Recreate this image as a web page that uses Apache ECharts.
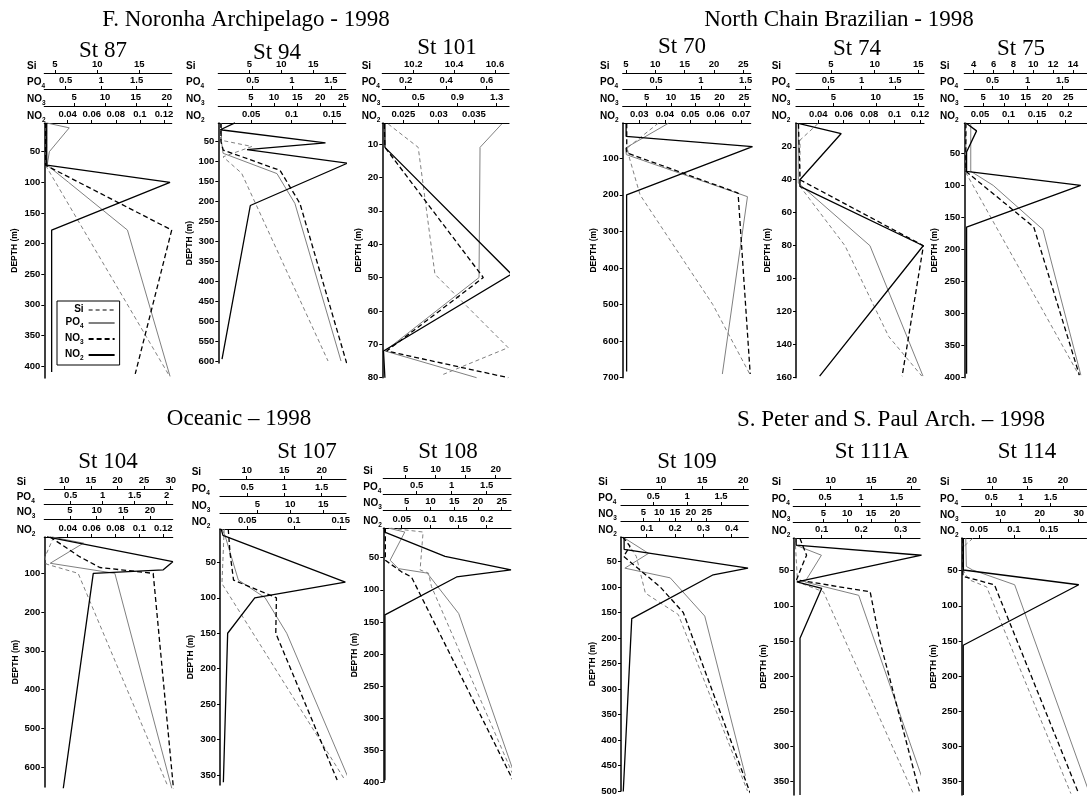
<!DOCTYPE html>
<html><head><meta charset="utf-8">
<script src="https://cdn.jsdelivr.net/npm/echarts@6/dist/echarts.min.js"></script>
<style>html,body{margin:0;padding:0;background:#fff}#c{width:1087px;height:796px}</style>
</head><body><div id="c"></div>
<script>
// ---------------- DATA ----------------
const SECTION_TITLES = ['F. Noronha Archipelago - 1998','North Chain Brazilian - 1998','Oceanic \u2013 1998','S. Peter and S. Paul Arch. \u2013 1998'];
const STATIONS = ['St 87','St 94','St 101','St 70','St 74','St 75','St 104','St 107','St 108','St 109','St 111A','St 114'];
const NUTRIENTS = ['Si','PO4','NO3','NO2'];

// tick labels of the four top axes, per station
const TICKS_87  = {Si:[5,10,15], PO4:[0.5,1,1.5], NO3:[5,10,15,20], NO2:[0.04,0.06,0.08,0.1,0.12]};
const TICKS_94  = {Si:[5,10,15], PO4:[0.5,1,1.5], NO3:[5,10,15,20,25], NO2:[0.05,0.1,0.15]};
const TICKS_101 = {Si:[10.2,10.4,10.6], PO4:[0.2,0.4,0.6], NO3:[0.5,0.9,1.3], NO2:[0.025,0.03,0.035]};
const TICKS_70  = {Si:[5,10,15,20,25], PO4:[0.5,1,1.5], NO3:[5,10,15,20,25], NO2:[0.03,0.04,0.05,0.06,0.07]};
const TICKS_74  = {Si:[5,10,15], PO4:[0.5,1,1.5], NO3:[5,10,15], NO2:[0.04,0.06,0.08,0.1,0.12]};
const TICKS_75  = {Si:[4,6,8,10,12,14], PO4:[0.5,1,1.5], NO3:[5,10,15,20,25], NO2:[0.05,0.1,0.15,0.2]};
const TICKS_104 = {Si:[10,15,20,25,30], PO4:[0.5,1,1.5,2], NO3:[5,10,15,20], NO2:[0.04,0.06,0.08,0.1,0.12]};
const TICKS_107 = {Si:[10,15,20], PO4:[0.5,1,1.5], NO3:[5,10,15], NO2:[0.05,0.1,0.15]};
const TICKS_108 = {Si:[5,10,15,20], PO4:[0.5,1,1.5], NO3:[5,10,15,20,25], NO2:[0.05,0.1,0.15,0.2]};
const TICKS_109 = {Si:[10,15,20], PO4:[0.5,1,1.5], NO3:[5,10,15,20,25], NO2:[0.1,0.2,0.3,0.4]};
const TICKS_111A= {Si:[10,15,20], PO4:[0.5,1,1.5], NO3:[5,10,15,20], NO2:[0.1,0.2,0.3]};
const TICKS_114 = {Si:[10,15,20], PO4:[0.5,1,1.5], NO3:[10,20,30], NO2:[0.05,0.1,0.15]};

// depth tick labels
const DEPTH_87  = [50,100,150,200,250,300,350,400];
const DEPTH_94  = [50,100,150,200,250,300,350,400,450,500,550,600];
const DEPTH_101 = [10,20,30,40,50,60,70,80];
const DEPTH_70  = [100,200,300,400,500,600,700];
const DEPTH_74  = [20,40,60,80,100,120,140,160];
const DEPTH_75  = [50,100,150,200,250,300,350,400];
const DEPTH_104 = [100,200,300,400,500,600];
const DEPTH_107 = [50,100,150,200,250,300,350];
const DEPTH_108 = [50,100,150,200,250,300,350,400];
const DEPTH_109 = [50,100,150,200,250,300,350,400,450,500];
const DEPTH_111A= [50,100,150,200,250,300,350];
const DEPTH_114 = [50,100,150,200,250,300,350];

// profiles: [concentration, depth (m)]
const St87_Si  = [[4.0,3],[4.0,75],[18.6,417]];
const St87_PO4 = [[0.23,3],[0.55,11],[0.27,50],[0.24,72],[0.54,100],[1.37,178],[1.97,417]];
const St87_NO3 = [[0.4,3],[0.4,72],[20.8,178],[14.9,413]];
const St87_NO2 = [[0.0226,3],[0.0226,72],[0.125,100],[0.0267,178],[0.0267,410]];

const St94_Si  = [[0.5,3],[0.5,46],[5.4,62],[0.9,88],[3.8,129],[17.3,600]];
const St94_PO4 = [[0.1,3],[0.1,50],[0.12,79],[0.81,130],[1.04,205],[1.63,600]];
const St94_NO3 = [[-1.5,3],[-1.5,50],[-1.0,71],[11.3,122],[15.6,205],[25.7,605]];
const St94_NO2 = [[0.03,3],[0.012,20],[0.142,53],[0.045,70],[0.169,104],[0.049,210],[0.014,595]];

const St101_Si  = [[10.077,4],[10.224,11],[10.306,49],[10.665,71],[10.347,79]];
const St101_PO4 = [[0.674,4],[0.567,11],[0.562,50],[0.098,72],[0.55,80]];
const St101_NO3 = [[0.153,4],[0.16,11],[1.164,50],[0.178,72],[1.418,80]];
const St101_NO2 = [[0.0224,4],[0.0224,11],[0.0403,49],[0.0222,72],[0.0224,80]];

const St70_Si  = [[10.5,4],[5.2,72],[5.6,100],[7.4,200],[19.8,500],[26.1,690]];
const St70_PO4 = [[0.64,4],[0.16,72],[0.17,90],[1.52,205],[1.24,690]];
const St70_NO3 = [[0.9,4],[0.9,85],[23.8,195],[26.3,690]];
const St70_NO2 = [[0.0248,4],[0.0248,40],[0.0745,68],[0.025,200],[0.025,683]];

const St74_Si  = [[3.5,6],[1.45,16],[1.45,44],[6.6,80],[11.6,135],[15.4,159]];
const St74_PO4 = [[0.05,6],[0.05,42],[1.125,80],[1.92,159]];
const St74_NO3 = [[0.9,6],[1.08,40],[15.6,80],[13.1,159]];
const St74_NO2 = [[0.025,6],[0.058,12],[0.0255,40],[0.0255,44],[0.1226,80],[0.041,159]];

const St75_Si  = [[3.2,3],[3.2,80],[14.6,396]];
const St75_PO4 = [[0.19,3],[0.19,78],[0.51,100],[1.22,169],[1.76,396]];
const St75_NO3 = [[0.97,3],[0.97,78],[16.9,165],[27.6,396]];
const St75_NO2 = [[0.026,3],[0.044,15],[0.0265,48],[0.0265,78],[0.2265,100],[0.0265,165],[0.0265,394]];

const St104_Si  = [[8.0,6],[6.4,57],[6.6,76],[12.6,100],[29.5,651]];
const St104_PO4 = [[0.2,6],[0.7,22],[0.18,74],[1.19,100],[2.08,655]];
const St104_NO3 = [[1.25,6],[6.8,57],[10.6,85],[20.6,100],[24.4,655]];
const St104_NO2 = [[0.0226,6],[0.128,70],[0.12,91],[0.0614,100],[0.0363,655]];

const St107_Si  = [[7.0,3],[6.7,80],[23.1,357]];
const St107_PO4 = [[0.16,3],[0.2,12],[0.38,75],[0.74,100],[1.03,150],[1.89,362]];
const St107_NO3 = [[0.6,3],[0.87,37],[1.4,75],[7.9,100],[7.8,150],[17.1,357]];
const St107_NO2 = [[0.022,3],[0.024,12],[0.155,78],[0.058,100],[0.029,150],[0.0244,360]];

const St108_Si  = [[2.5,4],[7.9,10],[7.4,69],[8.8,74],[9.3,95],[23.2,395]];
const St108_PO4 = [[0.1,4],[0.33,10],[0.12,54],[0.24,67],[0.65,74],[1.1,137],[1.92,395]];
const St108_NO3 = [[0.5,4],[0.5,54],[3.9,72],[6.0,80],[27.4,397]];
const St108_NO2 = [[0.02,4],[0.02,10],[0.1265,48],[0.243,69],[0.147,80],[0.0204,139],[0.0204,397]];

const St109_Si  = [[5.5,2],[7.0,40],[8.1,112],[12.1,154],[20.5,500]];
const St109_PO4 = [[0.05,2],[0.43,34],[0.08,63],[0.75,82],[1.26,157],[1.86,470]];
const St109_NO3 = [[-1.5,2],[0.8,20],[-1.2,40],[10.2,99],[17.6,150],[38.7,504]];
const St109_NO2 = [[0.02,2],[0.02,26],[0.458,63],[0.335,76],[0.047,162],[0.017,501]];

const St111A_Si  = [[5.6,4],[5.9,66],[9.1,80],[20.2,367]];
const St111A_PO4 = [[0.1,4],[0.1,14],[0.45,28],[0.22,66],[0.97,85],[1.93,367]];
const St111A_NO3 = [[0.1,4],[1.5,28],[0.5,44],[-0.6,63],[14.8,80],[16.8,149],[25.2,367]];
const St111A_NO2 = [[0.035,4],[0.035,13.5],[0.353,28],[0.037,66],[0.1,75],[0.045,146],[0.045,369]];

const St114_Si  = [[7.3,4],[6.0,16],[6.0,50],[6.8,63],[9.25,73],[21.1,367]];
const St114_PO4 = [[0.07,4],[0.08,44],[0.185,49],[0.894,70],[2.156,367]];
const St114_NO3 = [[0.33,4],[0.33,58],[8.4,70],[30,367]];
const St114_NO2 = [[0.028,4],[0.028,49],[0.1923,70],[0.0278,156],[0.0278,369]];

// ---------------- LAYOUT (pixel geometry & axis extents) ----------------
const SECTION_POS = [[246,20],[839,20],[239,419],[891,420]];
const PANELS = [
 {data:[St87_Si,St87_PO4,St87_NO3,St87_NO2], ticks:TICKS_87, depth:DEPTH_87, left:44.3, top:123, width:127.4, height:255, ymin:3.1, ymax:419.6,
  rng:{Si:[3.73,18.84],PO4:[0.199,1.993],NO3:[0.19,20.8],NO2:[0.0206,0.1264]}, off:[50,34,17,0], nameGap:17.3, depthGap:30, title:[103,51]},
 {data:[St94_Si,St94_PO4,St94_NO3,St94_NO2], ticks:TICKS_94, depth:DEPTH_94, left:218.3, top:123, width:127.4, height:240, ymin:3.1, ymax:605,
  rng:{Si:[0.16,20.06],PO4:[0.059,1.69],NO3:[-2.07,25.5],NO2:[0.0094,0.167]}, off:[50,34,17,0], nameGap:32.3, depthGap:28, title:[277,53]},
 {data:[St101_Si,St101_PO4,St101_NO3,St101_NO2], ticks:TICKS_101, depth:DEPTH_101, left:382.3, top:123, width:126.7, height:254.7, ymin:3.7, ymax:80,
  rng:{Si:[10.048,10.669],PO4:[0.0845,0.71],NO3:[0.133,1.426],NO2:[0.02203,0.03995]}, off:[50,34,17,0], nameGap:20.6, depthGap:24.6, title:[447,48]},
 {data:[St70_Si,St70_PO4,St70_NO3,St70_NO2], ticks:TICKS_70, depth:DEPTH_70, left:622.7, top:123, width:128, height:254.7, ymin:3.5, ymax:700,
  rng:{Si:[4.44,26.26],PO4:[0.129,1.556],NO3:[0.07,26.4],NO2:[0.02346,0.0738]}, off:[50,34,17,0], nameGap:22.7, depthGap:29.4, title:[682,47]},
 {data:[St74_Si,St74_PO4,St74_NO3,St74_NO2], ticks:TICKS_74, depth:DEPTH_74, left:796, top:123, width:128, height:254.7, ymin:5.6, ymax:160,
  rng:{Si:[0.99,15.65],PO4:[0.016,1.935],NO3:[0.61,15.67],NO2:[0.0224,0.1232]}, off:[50,34,17,0], nameGap:24.3, depthGap:29.3, title:[857,49]},
 {data:[St75_Si,St75_PO4,St75_NO3,St75_NO2], ticks:TICKS_75, depth:DEPTH_75, left:964.3, top:123, width:130.7, height:254.7, ymin:2.7, ymax:400,
  rng:{Si:[3.05,15.41],PO4:[0.098,1.848],NO3:[0.6,29.39],NO2:[0.0225,0.2375]}, off:[50,34,17,0], nameGap:24.3, depthGap:30, title:[1021,49]},
 {data:[St104_Si,St104_PO4,St104_NO3,St104_NO2], ticks:TICKS_104, depth:DEPTH_104, left:44.3, top:537, width:128.4, height:250, ymin:6.2, ymax:651.7,
  rng:{Si:[6.24,30.38],PO4:[0.0875,2.094],NO3:[0.18,24.26],NO2:[0.0204,0.1279]}, off:[48,33,18,0], nameGap:27.6, depthGap:29.3, title:[108,462]},
 {data:[St107_Si,St107_PO4,St107_NO3,St107_NO2], ticks:TICKS_107, depth:DEPTH_107, left:220, top:529, width:126, height:256, ymin:3, ymax:364,
  rng:{Si:[6.44,23.24],PO4:[0.133,1.827],NO3:[-0.65,18.44],NO2:[0.0208,0.1557]}, off:[50,33,16,0], nameGap:28.3, depthGap:30, title:[307,452]},
 {data:[St108_Si,St108_PO4,St108_NO3,St108_NO2], ticks:TICKS_108, depth:DEPTH_108, left:383.3, top:528, width:127.7, height:254.3, ymin:3.7, ymax:400,
  rng:{Si:[1.27,22.55],PO4:[0.023,1.847],NO3:[0.07,26.96],NO2:[0.0175,0.243]}, off:[50,34,18,0], nameGap:20, depthGap:26.7, title:[448,452]},
 {data:[St109_Si,St109_PO4,St109_NO3,St109_NO2], ticks:TICKS_109, depth:DEPTH_109, left:621, top:537, width:127.3, height:255.7, ymin:1.9, ymax:500,
  rng:{Si:[5.14,20.6],PO4:[0.023,1.903],NO3:[-2.03,38.1],NO2:[0.009,0.459]}, off:[48,32,16,0], nameGap:22.7, depthGap:29.3, title:[687,462]},
 {data:[St111A_Si,St111A_PO4,St111A_NO3,St111A_NO2], ticks:TICKS_111A, depth:DEPTH_111A, left:793.3, top:538, width:126.7, height:257, ymin:3.5, ymax:369,
  rng:{Si:[5.38,21.02],PO4:[0.058,1.825],NO3:[-1.28,25.23],NO2:[0.028,0.349]}, off:[49,32,16,0], nameGap:21.6, depthGap:30, title:[872,452]},
 {data:[St114_Si,St114_PO4,St114_NO3,St114_NO2], ticks:TICKS_114, depth:DEPTH_114, left:961.7, top:538, width:133.3, height:257, ymin:3.5, ymax:369,
  rng:{Si:[5.75,23.29],PO4:[0.0016,2.104],NO3:[0.02,31.99],NO2:[0.0256,0.2033]}, off:[49,32,16,0], nameGap:21.7, depthGap:28.4, title:[1027,452]}
];

// ---------------- STYLES ----------------
const SANS = 'Liberation Sans';
const SERIF = 'Liberation Serif';
const LINE_STYLE = {
  Si:  {color:'#808080', type:[4,3], width:1},
  PO4: {color:'#808080', type:'solid', width:1},
  NO3: {color:'#000000', type:[5,3], width:1.3},
  NO2: {color:'#000000', type:'solid', width:1.3}
};
const RICH = {
  b: {fontFamily:SANS, fontWeight:'bold', fontSize:10, color:'#000', lineHeight:12, verticalAlign:'top'},
  s: {fontFamily:SANS, fontWeight:'bold', fontSize:6.5, color:'#000', lineHeight:7, padding:[6,0,0,0], verticalAlign:'top'}
};
function nutName(n){
  const m = n.match(/^([A-Za-z]+)(\d?)$/);
  return m[2] ? '{b|'+m[1]+'}{s|'+m[2]+'}' : '{b|'+m[1]+'}';
}

// ---------------- BUILD ----------------
const grids=[], xAxes=[], yAxes=[], series=[], titles=[];
SECTION_TITLES.forEach((t,i)=>titles.push({text:t, left:SECTION_POS[i][0], top:SECTION_POS[i][1], textAlign:'center', textVerticalAlign:'middle', padding:0,
  textStyle:{fontFamily:SERIF, fontSize:23, fontWeight:'normal', color:'#000'}}));
PANELS.forEach((p,i)=>{
  titles.push({text:STATIONS[i], left:p.title[0], top:p.title[1], textAlign:'center', textVerticalAlign:'middle', padding:0,
    textStyle:{fontFamily:SERIF, fontSize:23, fontWeight:'normal', color:'#000'}});
  grids.push({left:p.left, top:p.top, width:p.width, height:p.height, containLabel:false, show:false});
  yAxes.push({gridIndex:i, type:'value', inverse:true, min:p.ymin, max:p.ymax,
    axisLine:{show:true, onZero:false, lineStyle:{color:'#000', width:1.5}},
    axisTick:{show:true, customValues:p.depth, length:3, lineStyle:{color:'#000', width:1}},
    axisLabel:{show:true, customValues:p.depth, margin:4, fontFamily:SANS, fontWeight:'bold', fontSize:9.5, color:'#000'},
    splitLine:{show:false},
    name:'DEPTH (m)', nameLocation:'middle', nameGap:p.depthGap-5, nameRotate:90,
    nameTextStyle:{fontFamily:SANS, fontWeight:'bold', fontSize:8.5, color:'#000'}});
  NUTRIENTS.forEach((n,k)=>{
    const xi = xAxes.length;
    xAxes.push({gridIndex:i, type:'value', position:'top', offset:p.off[k], min:p.rng[n][0], max:p.rng[n][1],
      axisLine:{show:true, onZero:false, lineStyle:{color:'#000', width:1.2}},
      axisTick:{show:true, customValues:p.ticks[n], length:3, lineStyle:{color:'#000', width:1}},
      axisLabel:{show:true, customValues:p.ticks[n], margin:4, fontFamily:SANS, fontWeight:'bold', fontSize:9.5, color:'#000'},
      splitLine:{show:false},
      name:nutName(n), nameLocation:'start', nameGap:p.nameGap,
      nameTextStyle:{align:'left', verticalAlign:'bottom', rich:RICH}});
    series.push({type:'line', name:n, xAxisIndex:xi, yAxisIndex:i, data:p.data[k], symbol:'none', showSymbol:false,
      clip:false, silent:true, lineStyle:LINE_STYLE[n], itemStyle:{color:LINE_STYLE[n].color}, z:k===3?4:3});
  });
});

const chart = echarts.init(document.getElementById('c'), null, {renderer:'canvas'});
chart.setOption({
  animation:false,
  backgroundColor:'#fff',
  title:titles,
  legend:{data:NUTRIENTS, orient:'vertical', left:57, top:301, align:'right', selectedMode:false,
    itemWidth:26, itemHeight:8, itemGap:3, padding:[3,4,3,8], borderColor:'#000', borderWidth:1,
    itemStyle:{opacity:0, borderWidth:0},
    formatter:n=>nutName(n), textStyle:{width:15, rich:RICH}},
  grid:grids, xAxis:xAxes, yAxis:yAxes, series:series
});
</script></body></html>
